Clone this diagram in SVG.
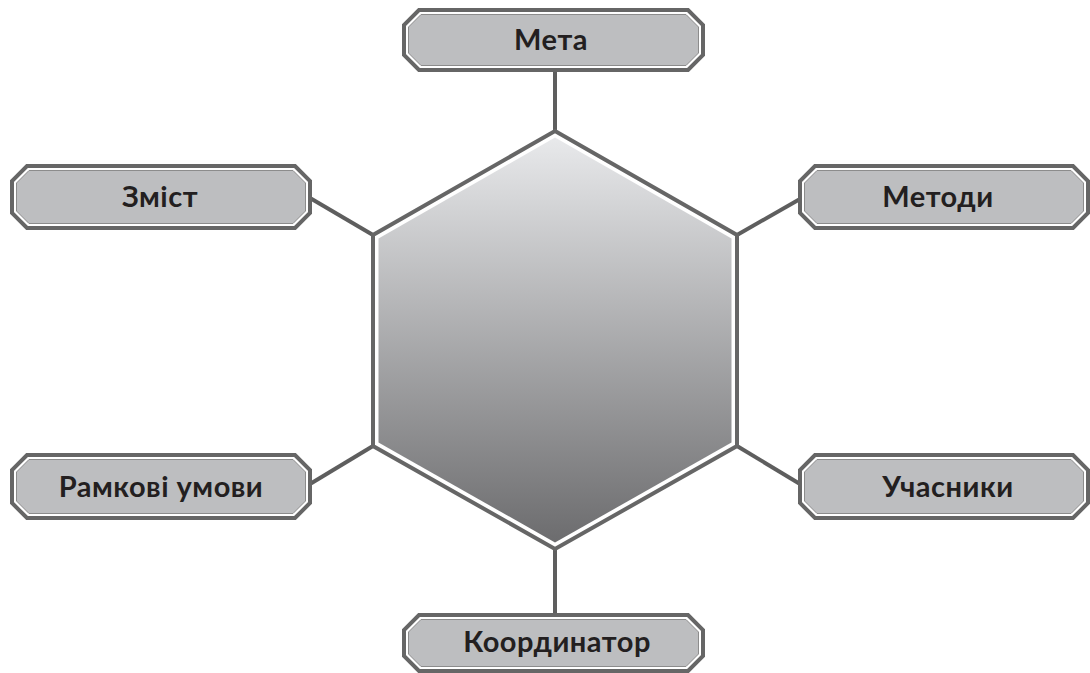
<svg xmlns="http://www.w3.org/2000/svg" width="1090" height="673" viewBox="0 0 1090 673">
  <defs>
    <linearGradient id="hexGrad" x1="0" y1="0" x2="0" y2="1">
      <stop offset="0" stop-color="#e8e9eb"/>
      <stop offset="1" stop-color="#6c6c6e"/>
    </linearGradient>
    <style>
      .outer { fill: #ffffff; stroke: #666666; stroke-width: 4; stroke-linejoin: miter; }
      .inner { fill: #bdbec0; stroke: #8c8c8c; stroke-width: 1; }
      .conn { stroke: #5e5e5e; stroke-width: 4; fill: none; }
      .label { font-family: "Lato", "Open Sans", "Liberation Sans", sans-serif; font-weight: bold; font-size: 29px; letter-spacing: 0.5px; fill: #231f20; text-anchor: middle; }
    </style>
  </defs>
  <rect width="1090" height="673" fill="#ffffff"/>

  <g id="connectors">
    <line class="conn" x1="555" y1="70" x2="555" y2="131"/>
    <line class="conn" x1="310" y1="198" x2="373" y2="235"/>
    <line class="conn" x1="800" y1="199" x2="737" y2="235"/>
    <line class="conn" x1="310" y1="484" x2="373" y2="446"/>
    <line class="conn" x1="800" y1="484" x2="737" y2="446"/>
    <line class="conn" x1="555" y1="549" x2="555" y2="615"/>
  </g>

  <g id="hexagon">
    <polygon class="outer" points="555,131 737,235 737,446 555,549 373,446 373,235"/>
    <polygon fill="url(#hexGrad)" points="555,137.5 731.5,238.5 731.5,442.5 555,542.5 378.5,442.5 378.5,238.5"/>
  </g>

  <g id="node-meta">
    <polygon class="outer" points="419,10 688,10 703,25 703,55 688,70 419,70 404,55 404,25"/>
    <polygon class="inner" points="421,14.5 686,14.5 698.5,27 698.5,53 686,65.5 421,65.5 408.5,53 408.5,27"/>
    <text class="label" x="551" y="50">Мета</text>
  </g>

  <g id="node-zmist">
    <polygon class="outer" points="27,166 295,166 310,181 310,213 295,228 27,228 12,213 12,181"/>
    <polygon class="inner" points="29,170.5 293,170.5 305.5,183 305.5,211 293,223.5 29,223.5 16.5,211 16.5,183"/>
    <text class="label" x="160" y="207">Зміст</text>
  </g>

  <g id="node-metody">
    <polygon class="outer" points="815,166 1073,166 1088,181 1088,213 1073,228 815,228 800,213 800,181"/>
    <polygon class="inner" points="817,170.5 1071,170.5 1083.5,183 1083.5,211 1071,223.5 817,223.5 804.5,211 804.5,183"/>
    <text class="label" x="938" y="207">Методи</text>
  </g>

  <g id="node-ramkovi">
    <polygon class="outer" points="27,455 295,455 310,470 310,503 295,518 27,518 12,503 12,470"/>
    <polygon class="inner" points="29,459.5 293,459.5 305.5,472 305.5,501 293,513.5 29,513.5 16.5,501 16.5,472"/>
    <text class="label" x="161" y="497">Рамкові умови</text>
  </g>

  <g id="node-uchasnyky">
    <polygon class="outer" points="815,455 1073,455 1088,470 1088,503 1073,518 815,518 800,503 800,470"/>
    <polygon class="inner" points="817,459.5 1071,459.5 1083.5,472 1083.5,501 1071,513.5 817,513.5 804.5,501 804.5,472"/>
    <text class="label" x="948" y="497">Учасники</text>
  </g>

  <g id="node-koordynator">
    <polygon class="outer" points="419,615 688,615 703,630 703,656 688,671 419,671 404,656 404,630"/>
    <polygon class="inner" points="421,619.5 686,619.5 698.5,632 698.5,654 686,666.5 421,666.5 408.5,654 408.5,632"/>
    <text class="label" x="557" y="652">Координатор</text>
  </g>
</svg>
